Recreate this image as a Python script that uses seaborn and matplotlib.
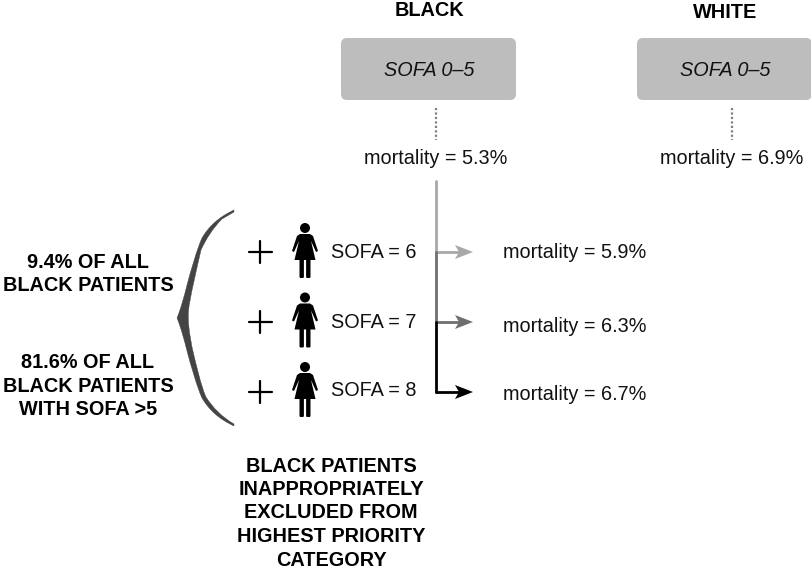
import matplotlib
matplotlib.use("Agg")
import matplotlib.pyplot as plt
import seaborn as sns
from matplotlib.patches import FancyBboxPatch, PathPatch, Polygon, Circle
from matplotlib.path import Path

# values
groups = ["BLACK", "WHITE"]
box_label = "SOFA 0–5"
base_mortality = [5.3, 6.9]
sofa_scores = [6, 7, 8]
sofa_mortality = [5.9, 6.3, 6.7]
arrow_colors = ["#a8a8a8", "#6f6f6f", "#000000"]
left_top = "9.4% OF ALL\nBLACK PATIENTS"
left_bottom = "81.6% OF ALL\nBLACK PATIENTS\nWITH SOFA >5"
bottom_text = ["BLACK PATIENTS", "INAPPROPRIATELY", "EXCLUDED FROM", "HIGHEST PRIORITY", "CATEGORY"]

sns.set_theme(style="white")
plt.rcParams['font.family'] = ['Liberation Sans', 'DejaVu Sans']

fig = plt.figure(figsize=(8.12, 5.72), dpi=100)
ax = fig.add_axes([0, 0, 1, 1])
# axes work in picture pixels, y going down
ax.set_xlim(0, 812)
ax.set_ylim(572, 0)
ax.axis("off")


def linea(ax, xs, ys, color, lw, **kw):
    # estimator=None so vertical segments are not averaged away
    sns.lineplot(x=xs, y=ys, color=color, lw=lw, ax=ax, sort=False, estimator=None, **kw)


def dibujar_persona(ax, cx, top):
    ax.add_patch(Circle((cx, top + 5), 5, color="black", lw=0))
    cuerpo = [(cx - 5, top + 11), (cx + 5, top + 11), (cx + 8, top + 13), (cx + 13, top + 28),
              (cx + 11, top + 29), (cx + 6, top + 18), (cx + 10.5, top + 37), (cx - 10.5, top + 37),
              (cx - 6, top + 18), (cx - 11, top + 29), (cx - 13, top + 28), (cx - 8, top + 13)]
    ax.add_patch(Polygon(cuerpo, color="black", lw=0))
    ax.add_patch(FancyBboxPatch((cx - 5.5, top + 36), 4.4, 19, boxstyle="round,pad=0,rounding_size=1.2", color="black", lw=0))
    ax.add_patch(FancyBboxPatch((cx + 1.1, top + 36), 4.4, 19, boxstyle="round,pad=0,rounding_size=1.2", color="black", lw=0))


def dibujar_llave(ax):
    verts = [(234, 210), (219, 217), (209, 226), (202, 238),
             (197, 249), (191, 270), (187, 285),
             (184, 297), (181, 308), (177, 318),
             (181, 328), (184, 339), (187, 351),
             (191, 366), (197, 387), (202, 398),
             (209, 410), (219, 419), (234, 426),
             (234, 424), (222, 417), (213, 408),
             (206, 397), (201, 386), (196, 364),
             (192, 347), (190, 335), (186, 318),
             (190, 301), (192, 289), (196, 272),
             (201, 250), (206, 239), (213, 228),
             (222, 219), (234, 212), (234, 210)]
    codes = [Path.MOVETO] + [Path.CURVE4] * 18 + [Path.LINETO] + [Path.CURVE4] * 15 + [Path.LINETO, Path.CLOSEPOLY]
    ax.add_patch(PathPatch(Path(verts, codes), facecolor="#444444", edgecolor="#444444", lw=0.3))


# cajas de arriba
centros = [429, 725]
for i, grupo in enumerate(groups):
    cx = centros[i]
    ax.text(cx, 10 if i == 0 else 13, grupo, ha="center", va="center", fontsize=14.3, fontweight="bold", color="black")
    ax.add_patch(FancyBboxPatch((cx - 88, 38), 175, 62, boxstyle="round,pad=0,rounding_size=6",
                                facecolor="#bdbdbd", edgecolor="none"))
    ax.text(cx, 70, box_label, ha="center", va="center", fontsize=14.3, style="italic", color="#111111")
    xd = cx + 7
    linea(ax, [xd, xd], [108, 140], "#808080", 1.6, linestyle=(0, (1, 1)))
    ax.text(xd, 158, f"mortality = {base_mortality[i]}%", ha="center", va="center", fontsize=14.3, color="#111111")

# tronco y flechas
x_tronco = 436
y_flechas = [252, 322, 392]
y_inicio = [181, 252, 322]
for i, sofa in enumerate(sofa_scores):
    y = y_flechas[i]
    color = arrow_colors[i]
    linea(ax, [x_tronco, x_tronco], [y_inicio[i], y], color, 2)
    linea(ax, [x_tronco, 462], [y, y], color, 2)
    ax.add_patch(Polygon([(473, y), (455, y - 7), (459, y), (455, y + 7)], color=color, lw=0, zorder=3))
    ax.text(503, y + (1 if i == 0 else 4 if i == 1 else 3), f"mortality = {sofa_mortality[i]}%", ha="left", va="center", fontsize=14.3, color="#111111")
    ax.text(331, y + (1 if i == 0 else 0 if i == 1 else -1), f"SOFA = {sofa}", ha="left", va="center", fontsize=14.3, color="#111111")
    linea(ax, [249, 272], [y, y], "black", 1.6)
    linea(ax, [260.5, 260.5], [y - 11, y + 11], "black", 1.6)
    dibujar_persona(ax, 305, 223 + i * 69.5)

dibujar_llave(ax)

# textos en negrita
ax.text(88, 274, left_top, ha="center", va="center", fontsize=14.3, fontweight="bold", linespacing=1.33, color="black")
ax.text(88, 386, left_bottom, ha="center", va="center", fontsize=14.3, fontweight="bold", linespacing=1.33, color="black")
for i, texto in enumerate(bottom_text):
    ax.text(331, 466 + i * 23.5, texto, ha="center", va="center", fontsize=14.3, fontweight="bold", color="black")

fig.savefig("out.png", dpi=100, facecolor="white")
